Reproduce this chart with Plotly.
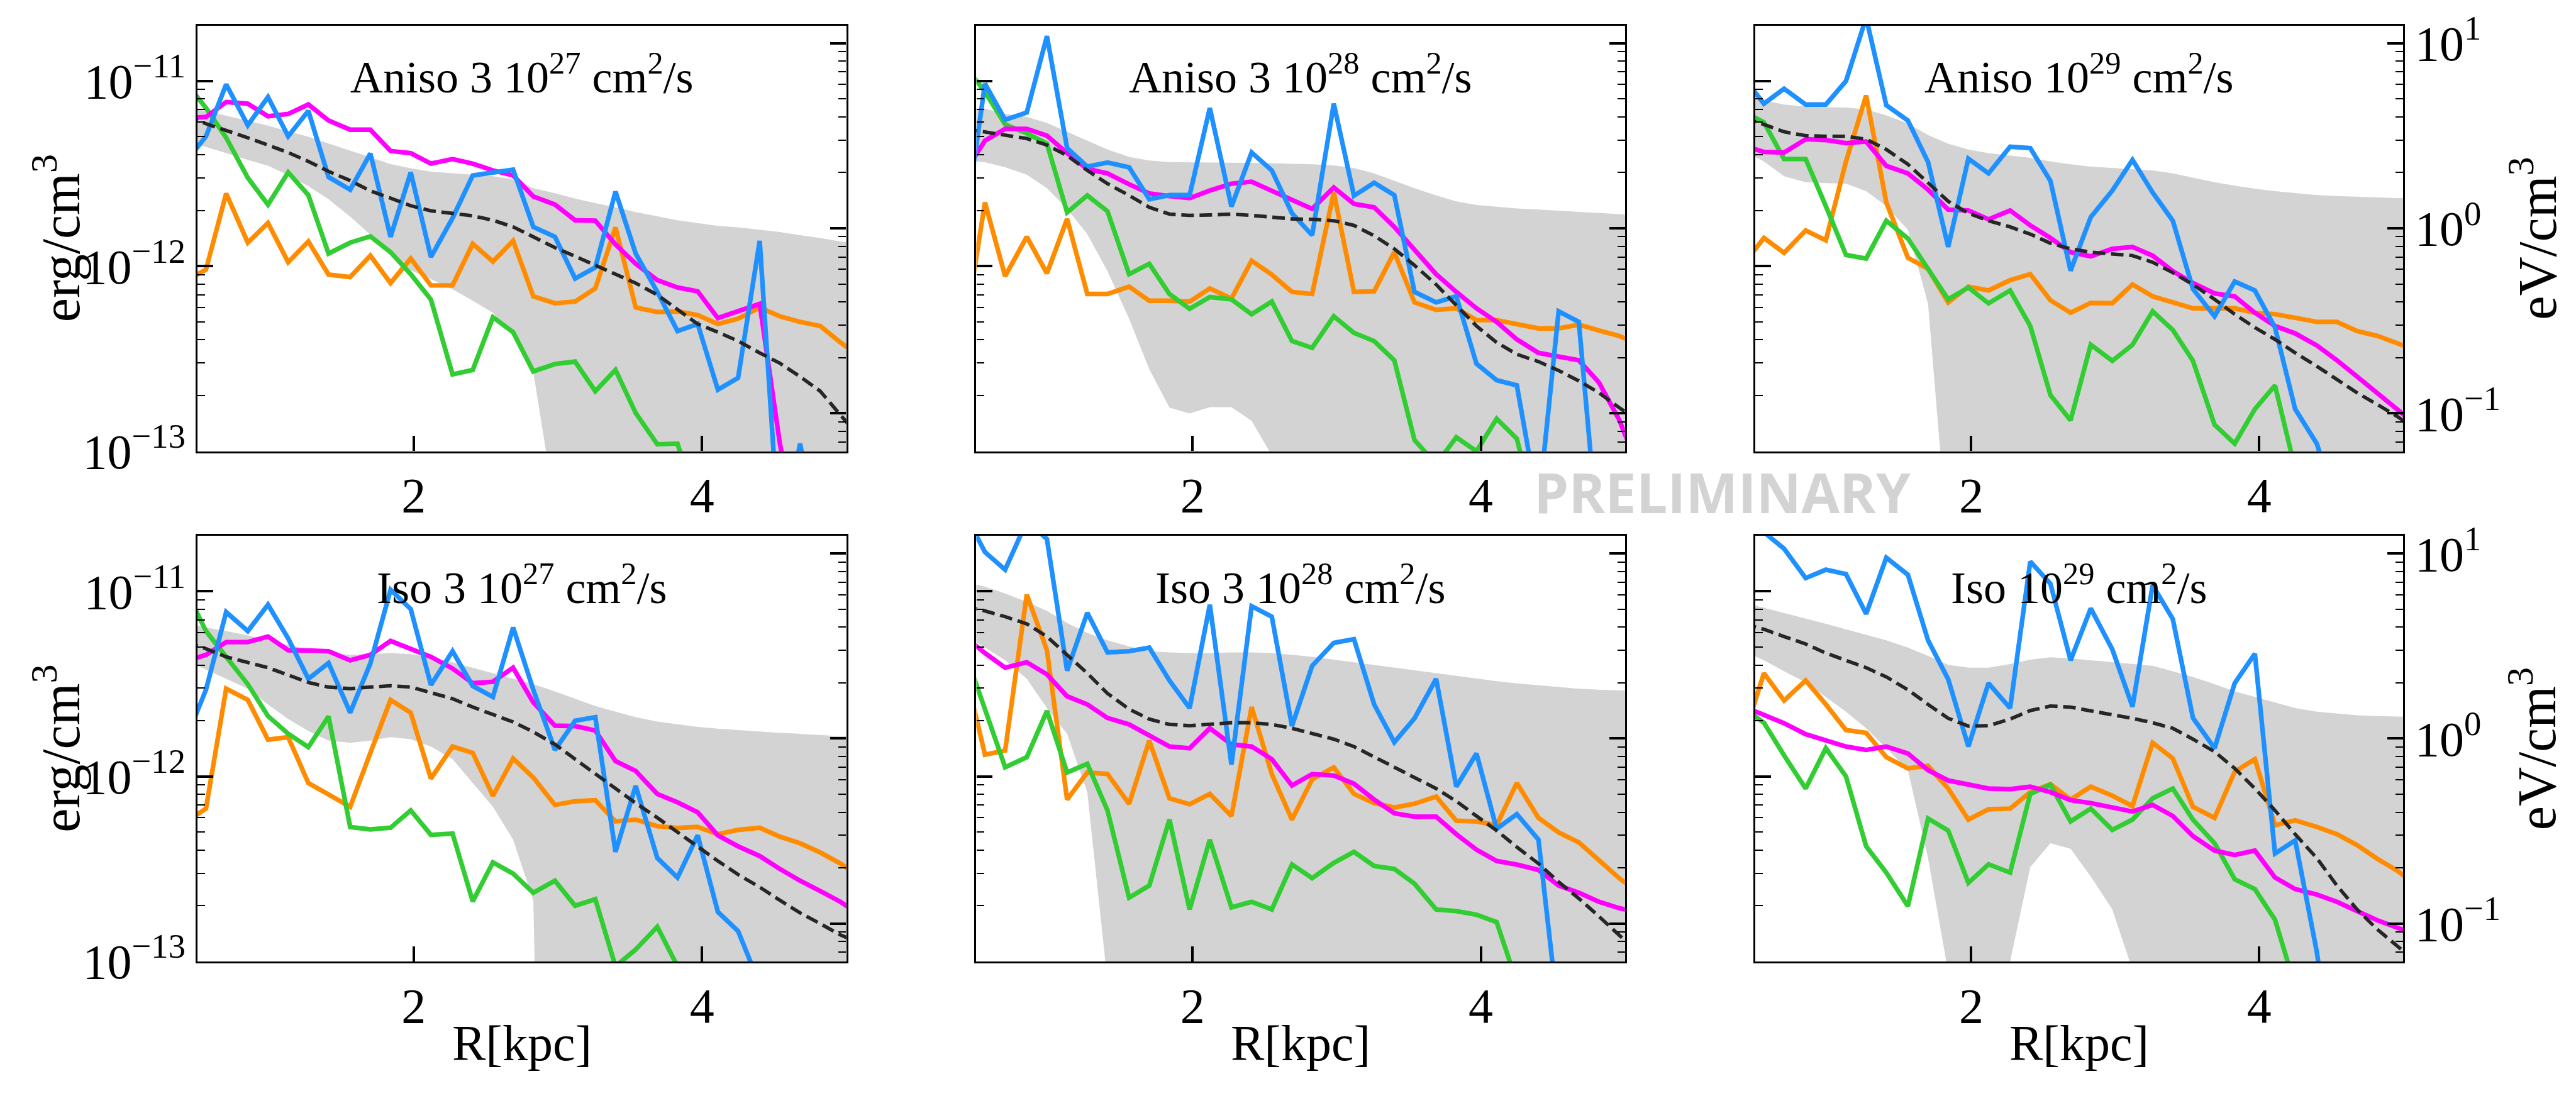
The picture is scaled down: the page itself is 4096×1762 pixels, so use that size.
import math
import plotly.graph_objects as go

# ---------------- data (values in units of 1e-12 erg/cm^3) ----------------
R_kpc = [0.42, 0.56, 0.70, 0.85, 0.99, 1.13, 1.27, 1.41, 1.56, 1.70, 1.84, 1.98, 2.12, 2.27, 2.41, 2.55, 2.69,
         2.83, 2.98, 3.12, 3.26, 3.40, 3.54, 3.69, 3.83, 3.97, 4.11, 4.25, 4.40, 4.54, 4.68, 4.82, 4.96, 5.11]

titles = ["Aniso 3 10<sup>27</sup> cm<sup>2</sup>/s", "Aniso 3 10<sup>28</sup> cm<sup>2</sup>/s",
          "Aniso 10<sup>29</sup> cm<sup>2</sup>/s", "Iso 3 10<sup>27</sup> cm<sup>2</sup>/s",
          "Iso 3 10<sup>28</sup> cm<sup>2</sup>/s", "Iso 10<sup>29</sup> cm<sup>2</sup>/s"]

# Panel 1: Aniso 3e27
a27_blue = [3.65, 5.03, 9.6, 5.77, 8.2, 5.03, 6.9, 3.03, 2.59, 4.06, 1.44, 3.21, 1.12, 1.82, 3.09, 3.20, 3.32,
            1.63, 1.44, 0.857, 0.985, 2.53, 1.17, 0.726, 0.446, 0.487, 0.215, 0.249, 1.37, 0.03, 0.11, 0.03, 0.03, 0.03]
a27_magenta = [6.3, 6.40, 7.70, 7.55, 6.45, 6.64, 7.47, 6.12, 5.46, 5.46, 4.19, 4.08, 3.58, 3.79, 3.58, 3.29, 3.09,
               2.38, 2.15, 1.77, 1.76, 1.31, 1.03, 0.84, 0.767, 0.731, 0.524, 0.57, 0.626, 0.11, 0.03, 0.02, 0.02, 0.02]
a27_orange = [0.835, 0.957, 2.47, 1.34, 1.71, 1.05, 1.36, 0.90, 0.873, 1.14, 0.81, 1.10, 0.787, 0.787, 1.32, 1.06,
              1.37, 0.687, 0.63, 0.644, 0.758, 1.62, 0.598, 0.565, 0.569, 0.544, 0.487, 0.520, 0.597, 0.536, 0.50,
              0.475, 0.387, 0.318]
a27_green = [9.8, 7.15, 4.94, 3.0, 2.15, 3.21, 2.42, 1.17, 1.34, 1.45, 1.19, 0.905, 0.66, 0.26, 0.275, 0.53, 0.44,
             0.27, 0.296, 0.305, 0.211, 0.275, 0.161, 0.109, 0.11, 0.05, 0.04, 0.04, 0.04, 0.04, 0.04, 0.04, 0.04, 0.04]
a27_median = [6.40, 5.90, 5.42, 4.94, 4.51, 4.11, 3.68, 3.25, 2.9, 2.55, 2.33, 2.12, 1.99, 1.93, 1.87, 1.77, 1.63,
              1.44, 1.26, 1.13, 1.01, 0.905, 0.81, 0.70, 0.581, 0.487, 0.44, 0.394, 0.34, 0.299, 0.253, 0.211, 0.157,
              0.115]
a27_upper = [7.15, 6.9, 6.5, 6.1, 5.75, 5.35, 5.0, 4.6, 4.22, 3.88, 3.56, 3.38, 3.24, 3.18, 3.12, 3.06, 2.95, 2.64,
             2.48, 2.32, 2.19, 2.08, 1.96, 1.86, 1.77, 1.71, 1.65, 1.62, 1.57, 1.53, 1.47, 1.42, 1.36, 1.31]
a27_lower = [4.76, 4.42, 4.08, 3.75, 3.49, 3.1, 2.7, 2.3, 1.85, 1.48, 1.15, 0.95, 0.85, 0.75, 0.65, 0.56, 0.417,
             0.268, 0.05, 1e-6, 1e-6, 1e-6, 1e-6, 1e-6, 1e-6, 1e-6, 1e-6, 1e-6, 1e-6, 1e-6, 1e-6, 1e-6, 1e-6, 1e-6]

# Panel 2: Aniso 3e28
a28_blue = [1.60, 9.68, 6.17, 6.76, 17.5, 4.34, 3.45, 3.63, 3.42, 2.30, 2.42, 2.42, 7.15, 2.10, 4.11, 3.29, 1.93,
            1.47, 7.55, 2.40, 2.82, 2.42, 0.726, 0.637, 0.687, 0.297, 0.242, 0.227, 0.05, 0.57, 0.50, 0.03, 0.03, 0.03]
a28_magenta = [3.21, 4.76, 5.52, 5.52, 5.07, 4.08, 3.35, 3.17, 2.77, 2.47, 2.39, 2.33, 2.56, 2.79, 2.86, 2.54, 2.28,
               2.04, 2.66, 2.17, 2.08, 1.63, 1.22, 0.905, 0.726, 0.592, 0.50, 0.402, 0.34, 0.324, 0.31, 0.235, 0.148,
               0.075]
a28_orange = [0.447, 2.21, 0.882, 1.44, 0.915, 1.80, 0.707, 0.707, 0.775, 0.65, 0.65, 0.644, 0.758, 0.669, 1.07,
              0.90, 0.726, 0.707, 2.50, 0.726, 0.731, 1.19, 0.637, 0.581, 0.592, 0.511, 0.511, 0.483, 0.461, 0.461,
              0.483, 0.449, 0.42, 0.373]
a28_green = [12.1, 8.75, 5.83, 5.22, 4.59, 1.95, 2.41, 1.98, 0.905, 1.03, 0.707, 0.588, 0.681, 0.662, 0.55, 0.644,
             0.394, 0.362, 0.536, 0.436, 0.394, 0.31, 0.115, 0.085, 0.119, 0.1, 0.15, 0.117, 0.04, 0.04, 0.04, 0.04,
             0.04, 0.04]
a28_median = [5.52, 5.32, 5.11, 4.89, 4.51, 3.96, 3.29, 2.79, 2.41, 2.08, 1.91, 1.88, 1.89, 1.91, 1.88, 1.84, 1.80,
              1.79, 1.76, 1.66, 1.46, 1.24, 1.01, 0.796, 0.614, 0.475, 0.387, 0.334, 0.305, 0.273, 0.24, 0.207, 0.172,
              0.143]
a28_upper = [7.10, 7.10, 6.64, 6.40, 5.94, 5.32, 4.76, 4.27, 3.89, 3.72, 3.65, 3.64, 3.64, 3.64, 3.62, 3.60, 3.57,
             3.55, 3.50, 3.39, 3.17, 2.89, 2.64, 2.41, 2.24, 2.14, 2.09, 2.05, 2.02, 1.99, 1.96, 1.93, 1.91, 1.89]
a28_lower = [3.75, 3.64, 3.42, 3.12, 2.64, 2.04, 1.49, 0.939, 0.52, 0.278, 0.172, 0.16, 0.173, 0.173, 0.146, 0.095,
             1e-6, 1e-6, 1e-6, 1e-6, 1e-6, 1e-6, 1e-6, 1e-6, 1e-6, 1e-6, 1e-6, 1e-6, 1e-6, 1e-6, 1e-6, 1e-6, 1e-6, 1e-6]

# Panel 3: Aniso 1e29
a29_blue = [10.4, 7.55, 9.09, 7.47, 7.47, 10.0, 22.0, 7.4, 6.12, 3.65, 1.27, 3.81, 3.17, 4.42, 4.34, 2.89, 0.946,
            1.84, 2.56, 3.75, 2.50, 1.76, 0.753, 0.536, 0.826, 0.739, 0.466, 0.169, 0.11, 0.05, 0.04, 0.04, 0.04, 0.04]
a29_magenta = [4.47, 4.14, 4.11, 4.85, 4.80, 4.62, 4.71, 3.48, 3.17, 2.59, 2.02, 2.0, 1.79, 2.0, 1.66, 1.42, 1.19,
               1.13, 1.24, 1.27, 1.14, 0.939, 0.81, 0.712, 0.687, 0.56, 0.475, 0.433, 0.373, 0.31, 0.253, 0.207,
               0.169, 0.135]
a29_orange = [1.03, 1.42, 1.18, 1.56, 1.38, 3.68, 8.35, 2.21, 1.11, 0.967, 0.637, 0.775, 0.739, 0.84, 0.905, 0.654,
              0.56, 0.633, 0.63, 0.796, 0.687, 0.637, 0.592, 0.592, 0.592, 0.56, 0.55, 0.526, 0.50, 0.50, 0.446, 0.42,
              0.38, 0.347]
a29_green = [6.81, 5.99, 3.79, 3.79, 2.11, 1.15, 1.10, 1.76, 1.41, 0.957, 0.662, 0.767, 0.63, 0.739, 0.475, 0.201,
             0.147, 0.376, 0.308, 0.376, 0.57, 0.452, 0.308, 0.139, 0.11, 0.169, 0.227, 0.08, 0.03, 0.03, 0.03, 0.03,
             0.03, 0.03]
a29_median = [6.28, 5.83, 5.32, 5.07, 5.03, 5.03, 4.85, 4.27, 3.55, 2.84, 2.24, 1.93, 1.76, 1.63, 1.49, 1.33, 1.24,
              1.19, 1.17, 1.14, 1.05, 0.922, 0.796, 0.662, 0.55, 0.466, 0.402, 0.34, 0.288, 0.244, 0.207, 0.179,
              0.154, 0.128]
a29_upper = [8.13, 7.84, 7.47, 7.28, 7.22, 7.20, 7.02, 6.52, 5.90, 5.11, 4.59, 4.27, 4.08, 3.96, 3.85, 3.68, 3.55,
             3.45, 3.39, 3.35, 3.29, 3.17, 3.0, 2.84, 2.72, 2.62, 2.54, 2.48, 2.42, 2.39, 2.37, 2.35, 2.33, 2.33]
a29_lower = [4.19, 3.68, 3.06, 2.84, 2.81, 2.79, 2.54, 2.11, 1.57, 0.626, 0.03, 1e-6, 1e-6, 1e-6, 1e-6, 1e-6, 1e-6,
             1e-6, 1e-6, 1e-6, 1e-6, 1e-6, 1e-6, 1e-6, 1e-6, 1e-6, 1e-6, 1e-6, 1e-6, 1e-6, 1e-6, 1e-6, 1e-6, 1e-6]

# Panel 4: Iso 3e27
i27_blue = [1.58, 2.94, 7.73, 6.10, 8.47, 5.57, 3.37, 4.10, 2.21, 4.08, 10.2, 8.02, 3.12, 4.75, 3.08, 2.69, 6.38,
            2.94, 1.39, 2.0, 2.09, 0.391, 0.889, 0.362, 0.284, 0.48, 0.185, 0.146, 0.075, 0.04, 0.04, 0.04, 0.04, 0.04]
i27_magenta = [4.20, 4.54, 5.32, 5.32, 5.70, 4.81, 4.79, 4.75, 4.24, 4.54, 5.40, 4.90, 4.43, 3.83, 3.19, 3.25, 3.87,
               2.51, 1.88, 1.87, 1.77, 1.21, 1.07, 0.804, 0.724, 0.64, 0.48, 0.419, 0.371, 0.316, 0.273, 0.24, 0.21,
               0.175]
i27_orange = [0.566, 0.67, 2.98, 2.59, 1.58, 1.63, 0.921, 0.793, 0.685, 1.34, 2.59, 2.21, 0.973, 1.45, 1.34, 0.786,
              1.25, 0.986, 0.701, 0.734, 0.744, 0.571, 0.584, 0.538, 0.526, 0.533, 0.487, 0.514, 0.528, 0.472, 0.435,
              0.388, 0.338, 0.282]
i27_green = [10.2, 6.10, 4.43, 3.15, 2.12, 1.70, 1.44, 2.11, 0.533, 0.517, 0.528, 0.655, 0.483, 0.491, 0.211, 0.343,
             0.298, 0.235, 0.273, 0.20, 0.217, 0.094, 0.116, 0.154, 0.094, 0.04, 0.04, 0.04, 0.04, 0.04, 0.04, 0.04,
             0.04, 0.04]
i27_median = [5.32, 4.90, 4.43, 4.14, 3.87, 3.53, 3.22, 3.04, 2.98, 3.04, 3.09, 3.04, 2.85, 2.63, 2.37, 2.16, 1.97,
              1.74, 1.49, 1.24, 1.03, 0.86, 0.717, 0.598, 0.498, 0.415, 0.349, 0.295, 0.252, 0.214, 0.183, 0.16,
              0.139, 0.124]
i27_upper = [6.74, 6.38, 6.10, 5.78, 5.44, 5.13, 4.86, 4.64, 4.54, 4.58, 4.64, 4.58, 4.40, 4.14, 3.87, 3.61, 3.37,
             3.15, 2.88, 2.63, 2.40, 2.24, 2.09, 1.98, 1.91, 1.85, 1.81, 1.78, 1.74, 1.72, 1.70, 1.67, 1.65, 1.64]
i27_lower = [4.24, 3.78, 3.37, 2.98, 2.45, 2.04, 1.76, 1.56, 1.52, 1.56, 1.63, 1.59, 1.45, 1.24, 0.921, 0.685, 0.455,
             0.214, 1e-6, 1e-6, 1e-6, 1e-6, 1e-6, 1e-6, 1e-6, 1e-6, 1e-6, 1e-6, 1e-6, 1e-6, 1e-6, 1e-6, 1e-6, 1e-6]

# Panel 5: Iso 3e28
i28_blue = [26.4, 16.3, 13.1, 23.9, 19.2, 3.73, 7.66, 4.68, 4.75, 4.97, 3.30, 2.34, 8.47, 1.16, 8.32, 7.3, 1.87,
            3.96, 5.27, 5.52, 2.45, 1.53, 2.06, 3.37, 0.88, 1.33, 0.521, 0.625, 0.455, 0.05, 0.03, 0.03, 0.03, 0.03]
i28_magenta = [5.70, 4.64, 3.87, 4.14, 3.56, 2.71, 2.45, 2.07, 1.91, 1.67, 1.45, 1.42, 1.82, 1.49, 1.45, 1.24, 0.892,
               1.03, 1.01, 0.913, 0.75, 0.632, 0.606, 0.606, 0.487, 0.402, 0.349, 0.334, 0.312, 0.257, 0.235, 0.21,
               0.194, 0.183]
i28_orange = [3.80, 1.31, 1.38, 9.62, 4.81, 0.75, 1.05, 1.03, 0.711, 1.56, 0.761, 0.707, 0.804, 0.611, 2.37, 1.03,
              0.584, 0.964, 1.12, 0.804, 0.717, 0.679, 0.711, 0.778, 0.576, 0.571, 0.545, 0.921, 0.597, 0.498, 0.44,
              0.349, 0.282, 0.23]
i28_green = [4.75, 2.29, 1.12, 1.27, 2.26, 1.05, 1.17, 0.655, 0.221, 0.257, 0.584, 0.191, 0.455, 0.196, 0.21, 0.191,
             0.334, 0.282, 0.341, 0.391, 0.328, 0.316, 0.263, 0.191, 0.187, 0.179, 0.163, 0.077, 0.03, 0.03, 0.03,
             0.03, 0.03, 0.03]
i28_median = [8.32, 7.84, 7.3, 6.68, 5.70, 4.54, 3.61, 2.81, 2.31, 2.04, 1.91, 1.88, 1.92, 1.95, 1.95, 1.91, 1.82,
              1.70, 1.59, 1.45, 1.28, 1.13, 0.986, 0.86, 0.734, 0.611, 0.51, 0.415, 0.338, 0.269, 0.219, 0.175, 0.139,
              0.108]
i28_upper = [11.3, 10.6, 9.75, 8.78, 7.84, 6.74, 5.96, 5.44, 5.04, 4.75, 4.68, 4.64, 4.64, 4.68, 4.68, 4.64, 4.54,
             4.43, 4.28, 4.14, 3.99, 3.87, 3.75, 3.61, 3.50, 3.37, 3.27, 3.18, 3.11, 3.04, 2.98, 2.94, 2.92, 2.90]
i28_lower = [5.83, 4.97, 4.24, 3.37, 2.34, 1.70, 0.822, 0.078, 1e-6, 1e-6, 1e-6, 1e-6, 1e-6, 1e-6, 1e-6, 1e-6, 1e-6,
             1e-6, 1e-6, 1e-6, 1e-6, 1e-6, 1e-6, 1e-6, 1e-6, 1e-6, 1e-6, 1e-6, 1e-6, 1e-6, 1e-6, 1e-6, 1e-6, 1e-6]

# Panel 6: Iso 1e29
i29_blue = [23.9, 20.9, 17.0, 11.8, 13.1, 12.4, 7.56, 15.2, 12.3, 5.44, 3.35, 1.45, 3.19, 2.34, 14.5, 11.0, 4.24,
            8.09, 4.86, 2.38, 10.8, 7.09, 2.07, 1.42, 3.19, 4.60, 0.383, 0.451, 0.113, 0.02, 0.02, 0.02, 0.02, 0.02]
i29_magenta = [2.38, 2.16, 1.94, 1.69, 1.56, 1.45, 1.39, 1.45, 1.33, 1.08, 0.951, 0.90, 0.86, 0.853, 0.88, 0.822,
               0.744, 0.717, 0.679, 0.646, 0.701, 0.611, 0.476, 0.397, 0.376, 0.397, 0.284, 0.246, 0.23, 0.21, 0.187,
               0.167, 0.152, 0.138]
i29_orange = [1.64, 3.61, 2.57, 3.30, 2.45, 1.78, 1.72, 1.27, 1.105, 1.14, 0.86, 0.584, 0.664, 0.67, 0.822, 0.909,
              0.75, 0.88, 0.786, 0.691, 1.52, 1.25, 0.685, 0.597, 1.06, 1.24, 0.545, 0.579, 0.533, 0.487, 0.425, 0.359,
              0.309, 0.252]
i29_green = [2.34, 1.95, 1.30, 0.86, 1.42, 1.0, 0.419, 0.302, 0.199, 0.592, 0.51, 0.266, 0.335, 0.302, 0.804, 0.90,
             0.571, 0.67, 0.514, 0.584, 0.761, 0.86, 0.584, 0.435, 0.278, 0.246, 0.168, 0.077, 0.03, 0.03, 0.03, 0.03,
             0.03, 0.03]
i29_median = [6.68, 6.24, 5.70, 5.20, 4.64, 4.24, 3.87, 3.45, 2.94, 2.45, 2.06, 1.87, 1.88, 2.04, 2.27, 2.40, 2.37,
              2.26, 2.16, 2.06, 1.95, 1.82, 1.59, 1.36, 1.105, 0.86, 0.655, 0.487, 0.362, 0.257, 0.191, 0.149, 0.121,
              0.097]
i29_upper = [8.71, 8.17, 7.66, 7.15, 6.68, 6.24, 5.83, 5.44, 4.97, 4.48, 4.01, 3.87, 3.87, 4.05, 4.28, 4.40, 4.34,
             4.24, 4.14, 4.05, 3.96, 3.70, 3.45, 3.15, 2.88, 2.69, 2.51, 2.34, 2.24, 2.19, 2.14, 2.12, 2.10, 2.09]
i29_lower = [4.75, 4.24, 3.70, 3.22, 2.69, 2.24, 1.82, 1.42, 1.08, 0.362, 0.087, 1e-6, 1e-6, 0.1, 0.323, 0.435, 0.406,
             0.288, 0.191, 0.09, 1e-6, 1e-6, 1e-6, 1e-6, 1e-6, 1e-6, 1e-6, 1e-6, 1e-6, 1e-6, 1e-6, 1e-6, 1e-6, 1e-6]

erg_tick_vals = [1e-13, 1e-12, 1e-11]
erg_tick_text = ["10<sup>\u221213</sup>", "10<sup>\u221212</sup>", "10<sup>\u221211</sup>"]
ev_tick_vals = [0.1, 1, 10]
ev_tick_text = ["10<sup>\u22121</sup>", "10<sup>0</sup>", "10<sup>1</sup>"]
x_tick_vals = [2, 4]

# ---------------- styling ----------------
UNIT = 1e-12           # data arrays are in 1e-12 erg/cm^3
ERG_PER_EV = 1.602e-12
BLUE, MAGENTA, ORANGE, GREEN = "#1E90FF", "#FF00FF", "#FF8C00", "#32CD32"
DASH_COL, BAND_COL = "#262626", "#D3D3D3"
SERIF = "Liberation Serif, Times New Roman, serif"
LW = 7.4
TICK_SIZE = 78

panels = [
    (a27_blue, a27_magenta, a27_orange, a27_green, a27_median, a27_upper, a27_lower),
    (a28_blue, a28_magenta, a28_orange, a28_green, a28_median, a28_upper, a28_lower),
    (a29_blue, a29_magenta, a29_orange, a29_green, a29_median, a29_upper, a29_lower),
    (i27_blue, i27_magenta, i27_orange, i27_green, i27_median, i27_upper, i27_lower),
    (i28_blue, i28_magenta, i28_orange, i28_green, i28_median, i28_upper, i28_lower),
    (i29_blue, i29_magenta, i29_orange, i29_green, i29_median, i29_upper, i29_lower),
]

col_dom = [(0.0766, 0.3285), (0.3790, 0.6308), (0.6814, 0.9329)]
row_dom = [(0.5909, 0.9908), (0.1117, 0.5114)]
ERG_RANGE = [-13.0, -10.70]
EV_RANGE = [r - math.log10(ERG_PER_EV) for r in ERG_RANGE]

erg_minor = [m * 10.0 ** e for e in (-13, -12, -11) for m in range(2, 10) if m * 10.0 ** e < 10 ** ERG_RANGE[1]]
ev_minor = [m * 10.0 ** e for e in (-2, -1, 0, 1) for m in range(2, 10)
            if 10 ** EV_RANGE[0] < m * 10.0 ** e < 10 ** EV_RANGE[1]]

fig = go.Figure()
layout = {}


def sc(a):
    return [v * UNIT for v in a]


for i, (blue, mag, ora, gre, med, up, lo) in enumerate(panels):
    n = i + 1
    r, c = divmod(i, 3)
    xa = "x" if n == 1 else f"x{n}"
    ya = "y" if n == 1 else f"y{n}"
    yr = f"y{n + 6}"

    # shaded band
    fig.add_trace(go.Scatter(x=R_kpc + R_kpc[::-1], y=sc(up) + sc(lo)[::-1], fill="toself", fillcolor=BAND_COL,
                             mode="lines", line=dict(width=0, color="rgba(0,0,0,0)"), xaxis=xa, yaxis=ya,
                             showlegend=False, hoverinfo="skip"))
    for arr, col in ((ora, ORANGE), (gre, GREEN), (mag, MAGENTA), (blue, BLUE)):
        fig.add_trace(go.Scatter(x=R_kpc, y=sc(arr), mode="lines", line=dict(color=col, width=LW),
                                 xaxis=xa, yaxis=ya, showlegend=False))
    fig.add_trace(go.Scatter(x=R_kpc, y=sc(med), mode="lines",
                             line=dict(color=DASH_COL, width=5.6, dash="20px,9px"),
                             xaxis=xa, yaxis=ya, showlegend=False))
    # dummy trace for the right-hand eV axis
    fig.add_trace(go.Scatter(x=[None], y=[None], mode="lines", xaxis=xa, yaxis=yr, showlegend=False,
                             hoverinfo="skip"))

    xkey = "xaxis" if n == 1 else f"xaxis{n}"
    ykey = "yaxis" if n == 1 else f"yaxis{n}"
    layout[xkey] = dict(domain=list(col_dom[c]), anchor=ya, range=[0.5, 5.0], tickmode="array",
                        tickvals=x_tick_vals, ticks="inside", ticklen=24, tickwidth=4, tickcolor="black",
                        showline=True, linecolor="black", linewidth=3.4, mirror=True, showgrid=False,
                        zeroline=False, tickfont=dict(family=SERIF, size=TICK_SIZE, color="black"))
    layout[ykey] = dict(domain=list(row_dom[r]), anchor=xa, type="log", range=ERG_RANGE, tickmode="array",
                        tickvals=erg_tick_vals, ticktext=erg_tick_text, ticks="inside", ticklen=25, tickwidth=4,
                        tickcolor="black", showline=True, linecolor="black", linewidth=3.4, mirror=True,
                        showgrid=False, zeroline=False, showticklabels=(c == 0),
                        tickfont=dict(family=SERIF, size=TICK_SIZE, color="black"),
                        minor=dict(tickmode="array", tickvals=erg_minor, ticks="inside", ticklen=12,
                                   tickwidth=2, tickcolor="black", showgrid=False))
    layout[f"yaxis{n + 6}"] = dict(overlaying=ya, anchor=xa, side="right", type="log", range=EV_RANGE,
                                   tickmode="array", tickvals=ev_tick_vals, ticktext=ev_tick_text,
                                   ticks="inside", ticklen=25, tickwidth=4, tickcolor="black", showline=True,
                                   linecolor="black", linewidth=3.4, showgrid=False, zeroline=False,
                                   showticklabels=(c == 2),
                                   tickfont=dict(family=SERIF, size=TICK_SIZE, color="black"),
                                   minor=dict(tickmode="array", tickvals=ev_minor, ticks="inside", ticklen=12,
                                              tickwidth=2, tickcolor="black", showgrid=False))

annotations = []
for i, t in enumerate(titles):
    r, c = divmod(i, 3)
    annotations.append(dict(text=t, x=(col_dom[c][0] + col_dom[c][1]) / 2, y=row_dom[r][1] - 0.0456,
                            xref="paper", yref="paper", xanchor="center", yanchor="middle", showarrow=False,
                            font=dict(family=SERIF, size=72, color="black")))
for r in range(2):
    yc = (row_dom[r][0] + row_dom[r][1]) / 2
    annotations.append(dict(text="erg/cm<sup>3</sup>", x=0.022, y=yc, xref="paper", yref="paper",
                            xanchor="center", yanchor="middle", textangle=-90, showarrow=False,
                            font=dict(family=SERIF, size=86, color="black")))
    annotations.append(dict(text="eV/cm<sup>3</sup>", x=0.9833, y=yc, xref="paper", yref="paper",
                            xanchor="center", yanchor="middle", textangle=-90, showarrow=False,
                            font=dict(family=SERIF, size=86, color="black")))
for c in range(3):
    annotations.append(dict(text="R[kpc]", x=(col_dom[c][0] + col_dom[c][1]) / 2, y=0.035, xref="paper",
                            yref="paper", xanchor="center", yanchor="middle", showarrow=False,
                            font=dict(family=SERIF, size=80, color="black")))
annotations.append(dict(text="<b>PRELIMINARY</b>", x=0.6685, y=0.5529, xref="paper", yref="paper",
                        xanchor="center", yanchor="middle", showarrow=False,
                        font=dict(family="Open Sans", size=88, color="#D3D3D3")))

fig.update_layout(width=4096, height=1762, autosize=False, margin=dict(l=0, r=0, t=0, b=0),
                  paper_bgcolor="white", plot_bgcolor="white", showlegend=False,
                  font=dict(family=SERIF, color="black"),
                  annotations=annotations, **layout)

fig.write_html("out.html")
